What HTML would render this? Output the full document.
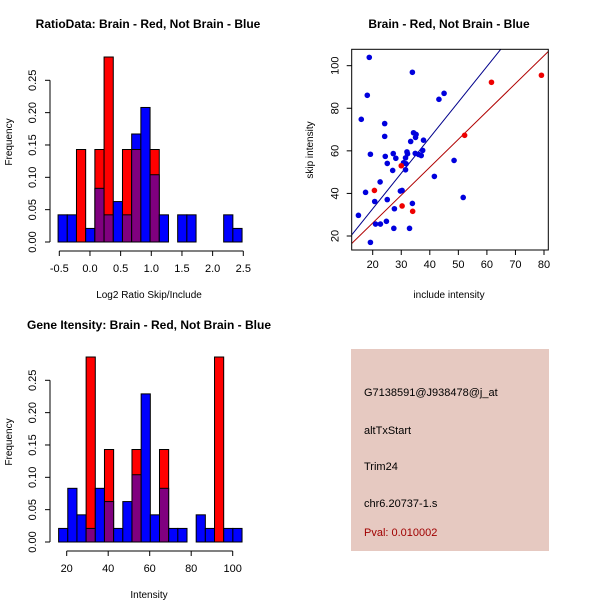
<!DOCTYPE html>
<html><head><meta charset="utf-8"><style>
body{margin:0;background:#fff}
svg{display:block;font-family:"Liberation Sans",sans-serif}
</style></head><body>
<svg id="c" width="600" height="600" xmlns="http://www.w3.org/2000/svg">
<rect x="0" y="0" width="600" height="600" fill="#fff"/>
<text x="148" y="28" font-size="12" font-weight="bold" text-anchor="middle">RatioData: Brain - Red, Not Brain - Blue</text>
<text x="449" y="28" font-size="12" font-weight="bold" text-anchor="middle">Brain - Red, Not Brain - Blue</text>
<text x="149" y="329" font-size="12" font-weight="bold" text-anchor="middle">Gene Itensity: Brain - Red, Not Brain - Blue</text>
<rect x="351" y="349" width="198" height="202" fill="#E6C9C1"/>
<text x="364" y="396" font-size="11">G7138591@J938478@j_at</text>
<text x="364" y="434" font-size="11">altTxStart</text>
<text x="364" y="470" font-size="11">Trim24</text>
<text x="364" y="507" font-size="11">chr6.20737-1.s</text>
<text x="364" y="536" font-size="11" fill="#a00000">Pval: 0.010002</text>
</svg>
<script>
const ratioStart=-0.52, ratioWidth=0.15;
const ratioBlue=[0.042,0.042,0,0.021,0.083,0.042,0.0625,0.042,0.167,0.208,0.104,0.042,0,0.042,0.042,0,0,0,0.042,0.021];
const ratioRed=[0,0,0.143,0,0.143,0.286,0,0.143,0.143,0,0.143,0,0,0,0,0,0,0,0,0];
const ratioXTicks=[-0.5,0.0,0.5,1.0,1.5,2.0,2.5];
const ratioXLabels=["-0.5","0.0","0.5","1.0","1.5","2.0","2.5"];
const intStart=16.1, intWidth=4.42;
const intBlue=[0.021,0.083,0.042,0.021,0.083,0.0625,0.021,0.0625,0.104,0.229,0.042,0.083,0.021,0.021,0,0.042,0.021,0,0.021,0.021];
const intRed=[0,0,0,0.286,0,0.143,0,0,0.143,0,0,0.143,0,0,0,0,0,0.286,0,0];
const intXTicks=[20,40,60,80,100];
const freqTicks=[0,0.05,0.10,0.15,0.20,0.25];
const freqLabels=["0.00","0.05","0.10","0.15","0.20","0.25"];
const blueX=[18.8,18.1,16.0,24.2,24.2,19.2,24.4,25.1,27.2,28.1,27.0,33.9,34.3,35.2,35.0,33.3,37.8,37.5,32.0,32.2,31.5,30.8,31.7,31.5,34.9,36.1,37.0,45.0,43.2,48.5,41.6,51.7,22.6,17.5,20.7,25.1,29.7,30.3,27.6,33.9,15.0,21.0,22.7,24.8,27.4,32.9,19.2];
const blueY=[103.9,86.1,74.8,72.8,66.8,58.4,57.4,54.1,58.7,56.5,50.8,96.9,68.5,67.7,66.3,64.4,65.0,60.2,59.5,58.6,56.7,54.4,53.9,51.1,58.8,58.3,57.8,87.0,84.2,55.5,48.0,38.1,45.4,40.5,36.2,37.1,41.1,41.4,32.8,35.3,29.7,25.6,25.6,26.9,23.6,23.6,17.0];
const redX=[20.6,30.0,30.3,34.0,52.2,61.6,79.1];
const redY=[41.4,53.0,34.1,31.6,67.3,92.2,95.5];
const blueLine=[1.67,-0.6];
const redLine=[1.31,-0.1];
const scXTicks=[20,30,40,50,60,70,80];
const scYTicks=[20,40,60,80,100];

const svg=document.getElementById('c');
const NS='http://www.w3.org/2000/svg';
function mk(tag,attrs,parent){const e=document.createElementNS(NS,tag);for(const k in attrs)e.setAttribute(k,attrs[k]);(parent||svg).appendChild(e);return e;}
function txt(x,y,s,attrs){const e=mk('text',Object.assign({x:x,y:y,'font-size':11},attrs||{}));e.textContent=s;return e;}

function hist(opts){
  const g=mk('g',{});
  
  
  const xs=v=>opts.x0px+(v-opts.x0)*opts.pxu;
  const ys=v=>opts.y0px-v*646.8;
  for(let i=0;i<opts.blue.length;i++){
    const l=xs(opts.start+i*opts.w), r=xs(opts.start+(i+1)*opts.w);
    const b=opts.blue[i], rd=opts.red[i], lo=Math.min(b,rd), hi=Math.max(b,rd);
    if(hi>0){
      const bar=mk('rect',{x:l,y:ys(hi),width:r-l,height:ys(0)-ys(hi),fill:b>rd?'#0000ff':'#ff0000',stroke:'#000','stroke-width':1},g);
      
      
    }
    if(lo>0){
      const ov=mk('rect',{x:l,y:ys(lo),width:r-l,height:ys(0)-ys(lo),fill:'#80007f',stroke:'#000','stroke-width':1},g);
      
      
    }
  }
  const ax=mk('g',{stroke:'#000','stroke-width':1},g);
  
  
  mk('line',{x1:opts.yAxX,x2:opts.yAxX,y1:ys(0),y2:ys(0.25)},ax);
  freqTicks.forEach((t,i)=>{
    mk('line',{x1:opts.yAxX-5,x2:opts.yAxX,y1:ys(t),y2:ys(t)},ax);
    const lx=opts.yAxX-14;
    const tl=txt(lx,ys(t),freqLabels[i],{'text-anchor':'middle',transform:`rotate(-90 ${lx} ${ys(t)})`,stroke:'none'});
    
    
    g.appendChild(tl);
  });
  const xa=mk('g',{stroke:'#000','stroke-width':1},g);
  
  
  const axY=ys(0)+9;
  mk('line',{x1:xs(opts.xt[0]),x2:xs(opts.xt[opts.xt.length-1]),y1:axY,y2:axY},xa);
  opts.xt.forEach((t,i)=>{
    mk('line',{x1:xs(t),x2:xs(t),y1:axY,y2:axY+5},xa);
    const tl=txt(xs(t),axY+21,opts.xl[i],{'text-anchor':'middle'});
    
    
    g.appendChild(tl);
  });
  const yt=txt(12,opts.ylabY,'Frequency',{'font-size':10,'text-anchor':'middle',transform:`rotate(-90 12 ${opts.ylabY})`});
  
  
  g.appendChild(yt);
  const xt=txt(149,opts.xlabY,opts.xlab,{'font-size':10,'text-anchor':'middle'});
  
  
  g.appendChild(xt);
}
hist({name:'ratio-histogram',blue:ratioBlue,red:ratioRed,start:ratioStart,w:ratioWidth,x0:-0.5,x0px:59.3,pxu:61.33,y0px:242,yAxX:50,xt:ratioXTicks,xl:ratioXLabels,ylabY:142,xlabY:298,xlab:'Log2 Ratio Skip/Include'});
hist({name:'intensity-histogram',blue:intBlue,red:intRed,start:intStart,w:intWidth,x0:20,x0px:66.7,pxu:2.075,y0px:542,yAxX:50,xt:intXTicks,xl:intXTicks.map(String),ylabY:442,xlabY:598,xlab:'Intensity'});

(function(){
  const g=mk('g',{});
  
  
  const L=351.7,R=548.3,T=49.3,B=250;
  const xs=v=>372.7+(v-20)*2.855;
  const ys=v=>236-(v-20)*2.129;
  const clip=mk('clipPath',{id:'scclip'},g);
  mk('rect',{x:L,y:T,width:R-L,height:B-T},clip);
  const lines=mk('g',{'clip-path':'url(#scclip)'},g);
  const xa=(L-372.7)/2.855+20, xb=(R-372.7)/2.855+20;
  const bl=mk('line',{x1:xs(xa),y1:ys(blueLine[0]*xa+blueLine[1]),x2:xs(xb),y2:ys(blueLine[0]*xb+blueLine[1]),stroke:'#00008b','stroke-width':1},lines);
  
  
  const rl=mk('line',{x1:xs(xa),y1:ys(redLine[0]*xa+redLine[1]),x2:xs(xb),y2:ys(redLine[0]*xb+redLine[1]),stroke:'#b00000','stroke-width':1},lines);
  
  
  blueX.forEach((x,i)=>{
    const p=mk('circle',{cx:xs(x),cy:ys(blueY[i]),r:2.8,fill:'#0000dd'},g);
    
    
  });
  redX.forEach((x,i)=>{
    const p=mk('circle',{cx:xs(x),cy:ys(redY[i]),r:2.8,fill:'#ee0000'},g);
    
    
  });
  const box=mk('rect',{x:L,y:T,width:R-L,height:B-T,fill:'none',stroke:'#000'},g);
  
  
  scXTicks.forEach(t=>{
    mk('line',{x1:xs(t),x2:xs(t),y1:B,y2:B+5,stroke:'#000'},g);
    const tl=txt(xs(t),B+18,String(t),{'text-anchor':'middle'});
    
    
  });
  scYTicks.forEach(t=>{
    mk('line',{x1:L-5,x2:L,y1:ys(t),y2:ys(t),stroke:'#000'},g);
    const lx=L-13;
    const tl=txt(lx,ys(t),String(t),{'text-anchor':'middle',transform:`rotate(-90 ${lx} ${ys(t)})`});
    
    
  });
  const xt=txt(449,298,'include intensity',{'font-size':10,'text-anchor':'middle'});
  
  
  const yt=txt(313,150,'skip intensity',{'font-size':10,'text-anchor':'middle',transform:'rotate(-90 313 150)'});
  
  
})();
</script>
</body></html>
